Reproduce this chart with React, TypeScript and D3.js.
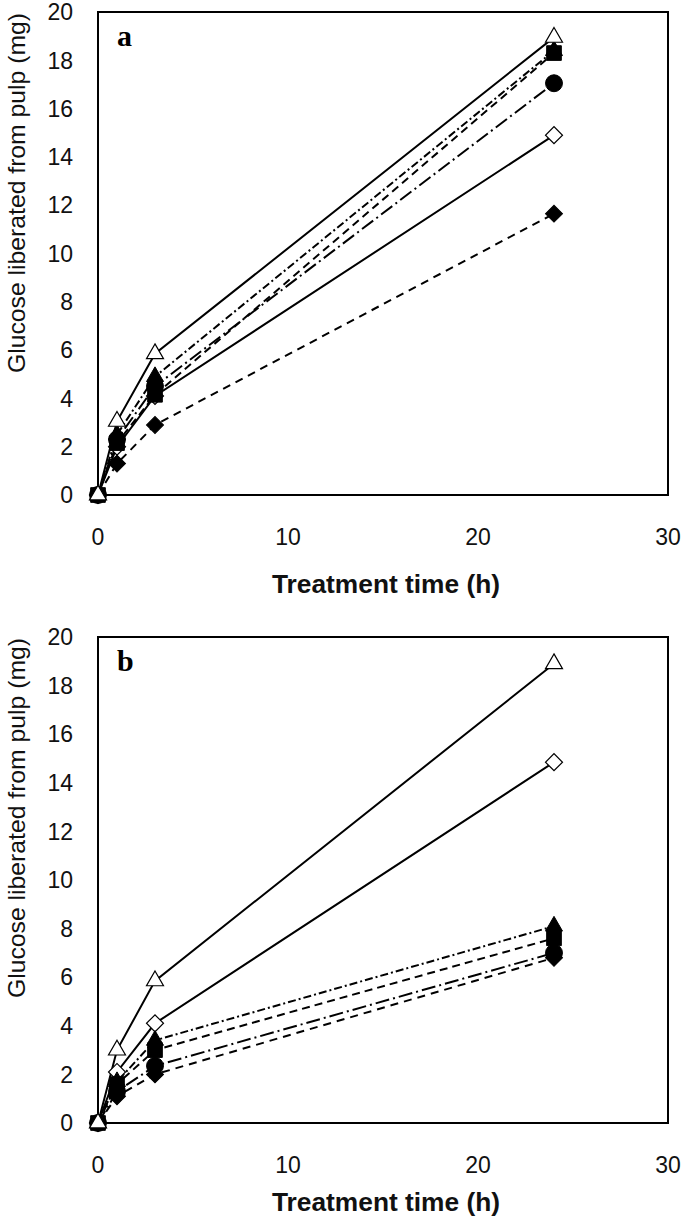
import React from "react";
import * as d3 from "d3";

const times = [0, 1, 3, 24];
const xTicks = [0, 10, 20, 30];
const yTicks = [0, 2, 4, 6, 8, 10, 12, 14, 16, 18, 20];

// drawing order: first = bottom
const seriesNames = ["openDiamond", "filledDiamond", "filledCircle", "filledTriangle", "filledSquare", "openTriangle"];

// Panel a values (mg) at 0, 1, 3, 24 h
const aOpenDiamond = [0, 2.0, 4.1, 14.9];
const aFilledDiamond = [0, 1.3, 2.9, 11.65];
const aFilledCircle = [0, 2.3, 4.5, 17.05];
const aFilledTriangle = [0, 2.5, 4.9, 18.4];
const aFilledSquare = [0, 2.15, 4.15, 18.3];
const aOpenTriangle = [0, 3.05, 5.85, 18.95];

// Panel b values (mg)
const bOpenDiamond = [0, 2.1, 4.1, 14.85];
const bFilledDiamond = [0, 1.1, 2.0, 6.8];
const bFilledCircle = [0, 1.3, 2.35, 7.0];
const bFilledTriangle = [0, 1.7, 3.4, 8.1];
const bFilledSquare = [0, 1.6, 3.0, 7.6];
const bOpenTriangle = [0, 3.0, 5.85, 18.9];

const panelA = [aOpenDiamond, aFilledDiamond, aFilledCircle, aFilledTriangle, aFilledSquare, aOpenTriangle];
const panelB = [bOpenDiamond, bFilledDiamond, bFilledCircle, bFilledTriangle, bFilledSquare, bOpenTriangle];

const styles: Record<string, { dash: string; shape: string; fill: string }> = {
  filledDiamond: { dash: "8,6", shape: "diamond", fill: "#000" },
  filledCircle: { dash: "14,4,2,4", shape: "circle", fill: "#000" },
  filledTriangle: { dash: "8,3,2,3", shape: "triangle", fill: "#000" },
  filledSquare: { dash: "8,5", shape: "square", fill: "#000" },
  openDiamond: { dash: "", shape: "diamond", fill: "#fff" },
  openTriangle: { dash: "", shape: "triangle", fill: "#fff" },
};

const W = 685;
const H = 1217;
const left = 98;
const right = 668;

function markerPath(shape: string): string {
  if (shape === "triangle") return d3.symbol(d3.symbolTriangle, 125)() as string;
  if (shape === "square") return d3.symbol(d3.symbolSquare, 215)() as string;
  if (shape === "circle") return d3.symbol(d3.symbolCircle, 225)() as string;
  return d3.symbol(d3.symbolSquare, 144)() as string;
}

function Panel({ data, top, bottom, letter, titleY, yLabelY }: { data: number[][]; top: number; bottom: number; letter: string; titleY: number; yLabelY: number }) {
  const x = d3.scaleLinear().domain([0, 30]).range([left, right]);
  const y = d3.scaleLinear().domain([0, 20]).range([bottom, top]);
  const line = d3.line<number>().x((_, i) => x(times[i])).y((v) => y(v));
  return (
    <g>
      <rect x={left} y={top} width={right - left} height={bottom - top} fill="none" stroke="#000" strokeWidth={2} />
      {yTicks.map((t) => (
        <text key={"y" + t} x={73} y={y(t)} dy="0.36em" textAnchor="end" fontFamily="Liberation Sans, Arial, sans-serif" fontSize={23} fill="#111">
          {t}
        </text>
      ))}
      {xTicks.map((t) => (
        <text key={"x" + t} x={x(t)} y={bottom + 42} dy="0.36em" textAnchor="middle" fontFamily="Liberation Sans, Arial, sans-serif" fontSize={23} fill="#111">
          {t}
        </text>
      ))}
      <text x={(left + right) / 2 + 3} y={titleY} dy="0.36em" textAnchor="middle" fontFamily="Liberation Sans, Arial, sans-serif" fontWeight="bold" fontSize={26} textLength={228} lengthAdjust="spacingAndGlyphs" fill="#111">
        Treatment time (h)
      </text>
      <text transform={`translate(16,${yLabelY}) rotate(-90)`} dy="0.36em" textAnchor="middle" fontFamily="Liberation Sans, Arial, sans-serif" fontSize={24} textLength={360} lengthAdjust="spacingAndGlyphs" fill="#111">
        Glucose liberated from pulp (mg)
      </text>
      <text x={117} y={top + 34} fontFamily="Liberation Serif, Times New Roman, serif" fontWeight="bold" fontSize={30} fill="#000">
        {letter}
      </text>
      {data.map((vals, si) => {
        const st = styles[seriesNames[si]];
        return (
          <path key={"l" + si} d={line(vals) as string} fill="none" stroke="#000" strokeWidth={2} strokeDasharray={st.dash || undefined} />
        );
      })}
      {data.map((vals, si) => {
        const st = styles[seriesNames[si]];
        const p = markerPath(st.shape);
        return (
          <g key={"m" + si}>
            {vals.map((v, i) => (
              <path
                key={i}
                d={p}
                transform={`translate(${x(times[i])},${y(v)})${st.shape === "diamond" ? " rotate(45)" : ""}`}
                fill={st.fill}
                stroke="#000"
                strokeWidth={st.fill === "#fff" ? 1.2 : 1}
              />
            ))}
          </g>
        );
      })}
    </g>
  );
}

export default function App() {
  return (
    <svg width={W} height={H} style={{ position: "absolute", left: 0, top: 0, background: "#fff" }}>
      <rect width={W} height={H} fill="#fff" />
      <Panel data={panelA} top={12} bottom={495} letter="a" titleY={584} yLabelY={193} />
      <Panel data={panelB} top={637} bottom={1123} letter="b" titleY={1202} yLabelY={818} />
    </svg>
  );
}
